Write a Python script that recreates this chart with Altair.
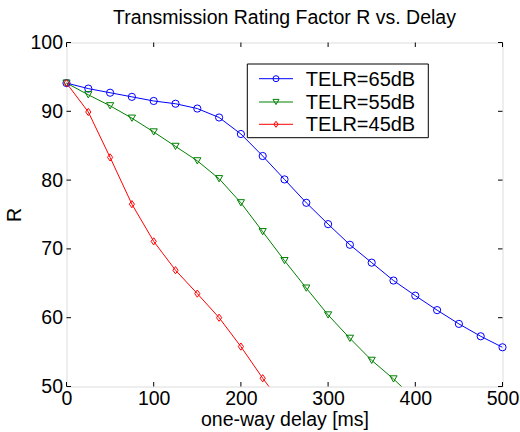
import altair as alt
import pandas as pd

# One-way delay (ms) at which R was evaluated
delay_65 = [0, 25, 50, 75, 100, 125, 150, 175, 200, 225, 250, 275, 300, 325, 350,
            375, 400, 425, 450, 475, 500]
delay_55 = [0, 25, 50, 75, 100, 125, 150, 175, 200, 225, 250, 275, 300, 325, 350,
            375, 400]
delay_45 = [0, 25, 50, 75, 100, 125, 150, 175, 200, 225, 250]

# Transmission rating factor R for each talker echo loudness rating
r_65 = [94.1, 93.3, 92.7, 92.1, 91.5, 91.1, 90.4, 89.1, 86.7, 83.5, 80.1, 76.7,
        73.6, 70.6, 68.0, 65.4, 63.2, 61.1, 59.1, 57.3, 55.7]
r_55 = [94.1, 92.4, 90.8, 89.0, 87.0, 84.9, 82.8, 80.2, 76.7, 72.5, 68.3, 64.3,
        60.4, 57.0, 53.8, 51.1, 48.1]
r_45 = [94.1, 89.9, 83.3, 76.5, 71.1, 66.9, 63.5, 60.0, 55.8, 51.2, 47.0]

series = ["TELR=65dB", "TELR=55dB", "TELR=45dB"]
colors = ["#0000ff", "#008000", "#ff0000"]
shapes = ["circle", "triangle-down", "M0,-1L0.72,0L0,1L-0.72,0Z"]

x_ticks = [0, 100, 200, 300, 400, 500]
y_ticks = [50, 60, 70, 80, 90, 100]

FONT = "Liberation Sans"
FS = 19.5
W, H = 436, 344
TICK = 4.5

rows = []
for name, xs, ys in zip(series, [delay_65, delay_55, delay_45], [r_65, r_55, r_45]):
    for x, y in zip(xs, ys):
        rows.append({"series": name, "delay": x, "R": y})
df = pd.DataFrame(rows)

x_scale = alt.Scale(domain=[0, 500], nice=False, zero=False)
y_scale = alt.Scale(domain=[50, 100], nice=False, zero=False)
color_scale = alt.Scale(domain=series, range=colors)
shape_scale = alt.Scale(domain=series, range=shapes)

x_axis = alt.Axis(values=x_ticks, title="one-way delay [ms]", grid=False, domain=False,
                  ticks=False, tickSize=0, labelPadding=3, labelFontSize=FS,
                  titleFontSize=FS, titleFontWeight="normal", labelFont=FONT,
                  titleFont=FONT, labelColor="black", titleColor="black",
                  titlePadding=2, labelFlush=False, labelOverlap=False)
y_axis = alt.Axis(values=y_ticks, title="R", grid=False, domain=False,
                  ticks=False, tickSize=0, labelPadding=4, labelFontSize=FS,
                  titleFontSize=FS, titleFontWeight="normal", labelFont=FONT,
                  titleFont=FONT, labelColor="black", titleColor="black",
                  titlePadding=5, labelFlush=False, labelOverlap=False)

base = alt.Chart(df)

lines = base.mark_line(strokeWidth=1, clip=True).encode(
    x=alt.X("delay:Q", scale=x_scale, axis=x_axis),
    y=alt.Y("R:Q", scale=y_scale, axis=y_axis),
    color=alt.Color("series:N", scale=color_scale, legend=None),
    detail="series:N",
)

points = base.transform_filter("datum.R >= 50").mark_point(
    filled=False, strokeWidth=1, size=52, opacity=1
).encode(
    x=alt.X("delay:Q", scale=x_scale),
    y=alt.Y("R:Q", scale=y_scale),
    color=alt.Color("series:N", scale=color_scale, legend=None),
    shape=alt.Shape("series:N", scale=shape_scale, legend=None),
)

# Inward tick marks on all four sides of the box
xt = alt.Chart(pd.DataFrame({"t": x_ticks}))
yt = alt.Chart(pd.DataFrame({"t": y_ticks}))
tick_style = dict(color="black", strokeWidth=1)
ticks = [
    xt.mark_rule(**tick_style).encode(x=alt.X("t:Q", scale=x_scale),
                                      y=alt.value(H), y2=alt.value(H - TICK)),
    xt.mark_rule(**tick_style).encode(x=alt.X("t:Q", scale=x_scale),
                                      y=alt.value(0), y2=alt.value(TICK)),
    yt.mark_rule(**tick_style).encode(y=alt.Y("t:Q", scale=y_scale),
                                      x=alt.value(0), x2=alt.value(TICK)),
    yt.mark_rule(**tick_style).encode(y=alt.Y("t:Q", scale=y_scale),
                                      x=alt.value(W), x2=alt.value(W - TICK)),
]

# Legend box with line + marker samples
one = alt.Chart(pd.DataFrame({"k": [0]}))
legend_layers = [
    one.mark_rect(fill="white", stroke="black", strokeWidth=1).encode(
        x=alt.value(180.8), x2=alt.value(361.8), y=alt.value(21.5), y2=alt.value(95.2)
    )
]
legend_rows = [36.2, 59.5, 81.8]
for name, col, shp, ly in zip(series, colors, shapes, legend_rows):
    legend_layers += [
        one.mark_rule(color=col, strokeWidth=1).encode(
            x=alt.value(192.5), x2=alt.value(226.5), y=alt.value(ly)),
        one.mark_point(filled=False, color=col, strokeWidth=1, size=36,
                       shape=shp, opacity=1).encode(
            x=alt.value(209.5), y=alt.value(ly)),
        one.mark_text(align="left", baseline="middle", font=FONT, fontSize=FS + 0.5,
                      color="black").encode(
            x=alt.value(239.2), y=alt.value(ly + 1), text=alt.value(name)),
    ]

chart = alt.layer(lines, points, *ticks, *legend_layers).properties(
    width=W,
    height=H,
    title=alt.TitleParams("Transmission Rating Factor R vs. Delay", fontSize=FS,
                          font=FONT, fontWeight="normal", color="black",
                          offset=4),
    autosize=alt.AutoSizeParams(type="none"),
    padding={"left": 66.5, "top": 42.5, "right": 17.5, "bottom": 45.5},
).configure_view(
    stroke="black", strokeWidth=1
).configure(
    background="white"
)

chart.save("out.html", embed_options={"renderer": "svg", "actions": False})
